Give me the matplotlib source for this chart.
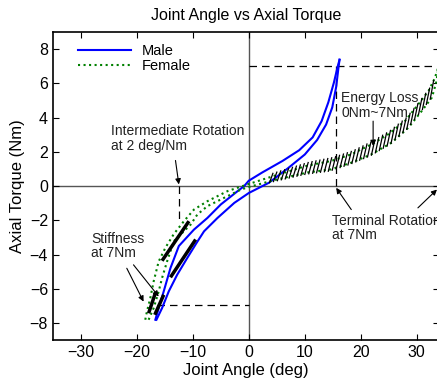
import numpy as np
import matplotlib
matplotlib.use("Agg")
import matplotlib.pyplot as plt

plt.rcParams["font.family"] = ["Liberation Sans", "DejaVu Sans"]

# Male hysteresis loop (angle deg, torque Nm)
male_up_x = [-16.7, -16.1, -15.2, -14.0, -12.5, -9.8, -7.4, -5.0, -2.0, -0.84, 0.0,
             2.4, 6.0, 9.0, 11.4, 13.0, 14.2, 15.2, 15.9, 16.2]
male_up_y = [-7.81, -7.13, -6.15, -4.79, -3.5, -2.54, -1.86, -1.07, -0.29, 0.0, 0.32,
             0.8, 1.47, 2.1, 2.85, 3.8, 4.9, 6.06, 7.03, 7.39]
male_lo_x = [-16.5, -15.5, -14.3, -12.8, -11.0, -9.3, -8.0, -5.6, -2.6, 0.0, 1.2,
             3.6, 7.0, 10.0, 12.2, 13.8, 14.9, 15.6, 16.0, 16.2]
male_lo_y = [-7.81, -7.13, -6.15, -5.18, -4.2, -3.3, -2.64, -1.86, -0.98, -0.4, -0.2,
             0.2, 1.05, 1.85, 2.7, 3.6, 4.6, 5.8, 6.9, 7.39]

# Female hysteresis loop
fem_up_x = [-18.5, -18.2, -17.6, -17.0, -16.1, -14.9, -13.4, -11.6, -9.8, -7.4, -3.8,
            -0.24, 4.5, 10.5, 14.7, 18.3, 21.9, 24.9, 27.9, 30.3, 32.1, 33.2, 33.9]
fem_up_y = [-7.81, -7.33, -6.55, -5.57, -4.4, -3.6, -2.8, -2.05, -1.37, -0.88, -0.29,
            0.1, 0.6, 1.2, 1.47, 1.86, 2.44, 3.03, 3.81, 4.79, 5.57, 6.3, 7.0]
fem_lo_x = [-17.9, -17.0, -16.1, -15.5, -14.6, -13.4, -10.4, -9.2, -7.4, -4.4, -1.4,
            0.0, 4.5, 10.5, 14.7, 18.3, 21.9, 25.5, 28.5, 30.9, 32.7, 33.5, 33.9]
fem_lo_y = [-7.81, -7.13, -6.15, -5.37, -4.4, -3.22, -2.25, -1.66, -1.17, -0.68, -0.2,
            -0.05, 0.35, 0.8, 0.98, 1.37, 1.86, 2.54, 3.42, 4.4, 5.18, 6.1, 7.0]

# stiffness tangent segments [(x0, y0), (x1, y1)]
tangents = [[(-10.7, -2.05), (-15.5, -4.36)],
            [(-9.5, -3.12), (-14.0, -5.33)],
            [(-16.7, -6.25), (-17.9, -7.43)],
            [(-15.2, -6.35), (-16.8, -7.52)]]

# dashed guide lines
guides = [[(0, 34), (7, 7)],
          [(15.5, 15.5), (7, 0)],
          [(33.8, 33.8), (7, 0)],
          [(-16.4, 0), (-6.93, -6.93)],
          [(-12.4, -12.4), (0, -2.05)]]

# annotation arrows: (tail, head)
arrows = [((-13.1, 1.5), (-12.5, 0.1)),
          ((-21.8, -4.8), (-18.8, -6.75)),
          ((-20.6, -4.6), (-16.1, -6.45)),
          ((22.2, 3.8), (22.2, 2.35)),
          ((18.3, -1.37), (15.6, -0.1)),
          ((30.2, -1.27), (33.6, -0.2))]

labels = [(-24.6, 2.8, "Intermediate Rotation\nat 2 deg/Nm"),
          (-28.2, -3.5, "Stiffness\nat 7Nm"),
          (16.5, 4.7, "Energy Loss\n0Nm~7Nm"),
          (14.9, -2.45, "Terminal Rotation\nat 7Nm")]

fig = plt.figure(figsize=(4.37, 3.83), dpi=100)
ax = fig.add_axes([0.121, 0.112, 0.884, 0.804])

ax.axhline(0, color="#555555", lw=1.0, zorder=1)
ax.axvline(0, color="#555555", lw=1.0, zorder=1)

ax.plot(male_up_x, male_up_y, color="blue", lw=1.5, label="Male", zorder=3)
ax.plot(male_lo_x, male_lo_y, color="blue", lw=1.5, zorder=3)
ax.plot(fem_up_x, fem_up_y, color="#008000", lw=1.5, ls=":", label="Female", zorder=3)
ax.plot(fem_lo_x, fem_lo_y, color="#008000", lw=1.5, ls=":", zorder=3)

# energy loss hatching between female branches
hx = np.arange(4.0, 33.2, 0.7)
hup = np.interp(hx, fem_up_x, fem_up_y)
hlo = np.interp(hx, fem_lo_x, fem_lo_y)
for x, u, l in zip(hx, hup, hlo):
    ax.plot([x - 0.3, x + 0.3], [l - 0.1, u + 0.2], color="black", lw=0.9, zorder=4)

for (x0, y0), (x1, y1) in tangents:
    ax.plot([x0, x1], [y0, y1], color="black", lw=2.5, solid_capstyle="butt", zorder=5)

for xs, ys in guides:
    ax.plot(xs, ys, color="black", lw=0.9, ls=(0, (6, 4)), zorder=2)

for tail, head in arrows:
    ax.annotate("", xy=head, xytext=tail,
                arrowprops=dict(arrowstyle="-|>", color="black", lw=0.8,
                                mutation_scale=8, shrinkA=0, shrinkB=0))

for x, y, s in labels:
    ax.text(x, y, s, fontsize=10, color="#222222", va="center", ha="left",
            linespacing=1.05, zorder=6)

ax.set_xlim(-35, 34)
ax.set_ylim(-9, 9)
ax.set_xticks([-30, -20, -10, 0, 10, 20, 30])
ax.set_yticks([-8, -6, -4, -2, 0, 2, 4, 6, 8])
ax.tick_params(direction="in", top=True, right=True, length=4, labelsize=11.5)
for sp in ax.spines.values():
    sp.set_linewidth(1.2)
ax.set_xlabel("Joint Angle (deg)", fontsize=12, labelpad=2)
ax.set_ylabel("Axial Torque (Nm)", fontsize=12, labelpad=3)
ax.set_title("Joint Angle vs Axial Torque", fontsize=11.5, pad=9)
ax.legend(loc="upper left", bbox_to_anchor=(0.035, 1.0), frameon=False, fontsize=10.5,
          handlelength=3.6, handletextpad=0.8, borderaxespad=0.4, labelspacing=0.1)

fig.savefig("out.png", dpi=100)
